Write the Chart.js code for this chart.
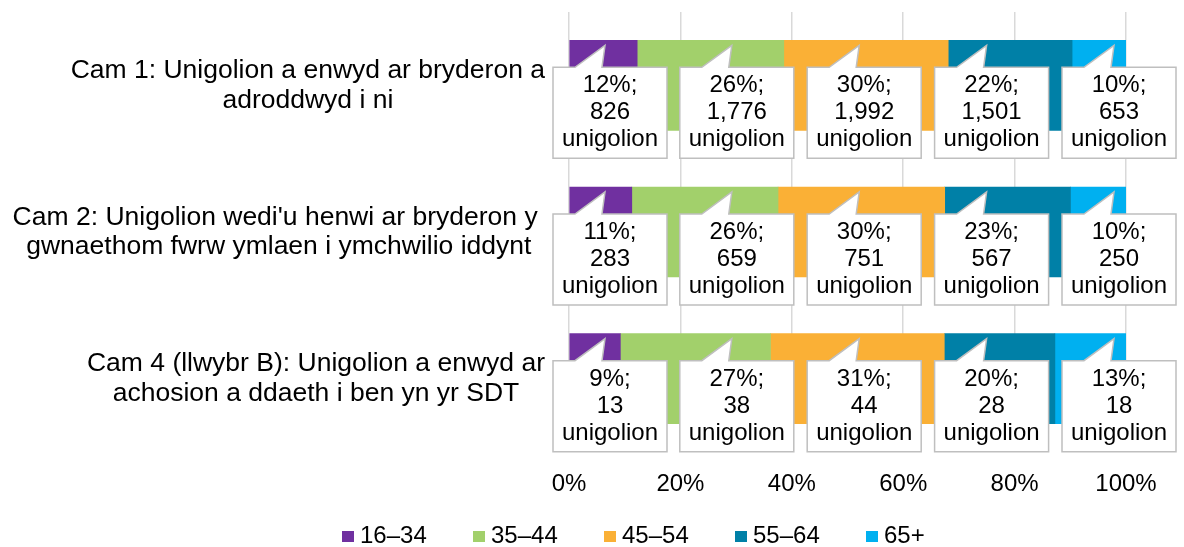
<!DOCTYPE html>
<html>
<head>
<meta charset="utf-8">
<script src="https://cdn.jsdelivr.net/npm/chart.js@4.4.1/dist/chart.umd.min.js"></script>
<style>
  body { margin: 0; background: #fff; }
  #wrap { width: 1184px; height: 547px; position: relative; }
</style>
</head>
<body>
<div id="wrap"><canvas id="myChart"></canvas></div>
<script>
// stages (each one a two-line label)
const categories = [
  ["Cam 1: Unigolion a enwyd ar bryderon a", "adroddwyd i ni"],
  ["Cam 2: Unigolion wedi'u henwi ar bryderon y ", "gwnaethom fwrw ymlaen i ymchwilio iddynt"],
  ["Cam 4 (llwybr B): Unigolion a enwyd ar", "achosion a ddaeth i ben yn yr SDT"]
];
const ageBands = ["16–34", "35–44", "45–54", "55–64", "65+"];

// number of individuals per age band, one value per stage
const count16to34 = [826, 283, 13];
const count35to44 = [1776, 659, 38];
const count45to54 = [1992, 751, 44];
const count55to64 = [1501, 567, 28];
const count65plus = [653, 250, 18];

const xTickValues = [0, 20, 40, 60, 80, 100];

const colors = ["#7030A0", "#A2D06B", "#FAB036", "#0080A7", "#00B0F0"];
const FONT = "'Liberation Sans', Arial, sans-serif";

const counts = [count16to34, count35to44, count45to54, count55to64, count65plus];
const totals = categories.map((c, i) => counts.reduce((s, arr) => s + arr[i], 0));
const shares = counts.map(arr => arr.map((v, i) => v / totals[i] * 100));

const datasets = ageBands.map((band, j) => ({
  label: band,
  data: shares[j],
  backgroundColor: colors[j],
  borderWidth: 0,
  barThickness: 90,
}));

// category labels: block right aligned, lines centred inside the block
const categoryLabels = {
  id: "categoryLabels",
  afterDraw(chart) {
    const ctx = chart.ctx;
    const yScale = chart.scales.y;
    const right = chart.chartArea.left - 24;
    const lineGap = 29.5;
    ctx.save();
    ctx.font = "26.5px " + FONT;
    ctx.fillStyle = "#000";
    ctx.textAlign = "center";
    ctx.textBaseline = "alphabetic";
    categories.forEach((lines, i) => {
      const y = yScale.getPixelForValue(i);
      const w = Math.max(...lines.map(l => ctx.measureText(l).width));
      const cx = right - w / 2;
      lines.forEach((l, k) => {
        const ly = y + (k - (lines.length - 1) / 2) * lineGap + 7.5;
        ctx.fillText(l, cx, ly);
      });
    });
    ctx.restore();
  }
};

// speech-bubble data labels below each segment
const callouts = {
  id: "callouts",
  afterDatasetsDraw(chart) {
    const ctx = chart.ctx;
    const boxW = 114, boxH = 91, gap = 14, lineGap = 27;
    ctx.save();
    ctx.font = "24px " + FONT;
    categories.forEach((cat, i) => {
      const bars = chart.data.datasets.map((ds, j) => chart.getDatasetMeta(j).data[i]);
      let cx = bars.map(b => (b.x + b.base) / 2);
      const lo = chart.chartArea.left - 16 + boxW / 2;
      const hi = chart.width - 8 - boxW / 2;
      for (let it = 0; it < 80; it++) {
        for (let k = 0; k < cx.length - 1; k++) {
          const d = cx[k + 1] - cx[k];
          if (d < boxW + gap) {
            const push = (boxW + gap - d) / 2;
            cx[k] -= push;
            cx[k + 1] += push;
          }
        }
        cx = cx.map(c => Math.min(hi, Math.max(lo, c)));
      }
      bars.forEach((b, j) => {
        const barTop = b.y - b.height / 2;
        const top = barTop + 27;
        const x0 = cx[j] - boxW / 2;
        const x1 = cx[j] + boxW / 2;
        ctx.beginPath();
        ctx.moveTo(x0, top);
        ctx.lineTo(cx[j] - 35, top);
        ctx.lineTo(cx[j] - 5, barTop + 5);
        ctx.lineTo(cx[j] - 8, top);
        ctx.lineTo(x1, top);
        ctx.lineTo(x1, top + boxH);
        ctx.lineTo(x0, top + boxH);
        ctx.closePath();
        ctx.fillStyle = "#fff";
        ctx.fill();
        ctx.strokeStyle = "#BFBFBF";
        ctx.lineWidth = 1.5;
        ctx.stroke();

        const pct = Math.round(shares[j][i]);
        const lines = [pct + "%;", counts[j][i].toLocaleString("en-GB"), "unigolion"];
        ctx.fillStyle = "#000";
        ctx.textAlign = "center";
        ctx.textBaseline = "middle";
        const cy = top + boxH / 2;
        lines.forEach((l, k) => ctx.fillText(l, cx[j], cy + (k - 1) * lineGap));
      });
    });
    ctx.restore();
  }
};

// legend with square markers along the bottom
const bottomLegend = {
  id: "bottomLegend",
  afterDraw(chart) {
    const ctx = chart.ctx;
    const startX = 342, pitch = 131, y = 535;
    ctx.save();
    ctx.font = "24px " + FONT;
    ctx.textAlign = "left";
    ctx.textBaseline = "middle";
    chart.data.datasets.forEach((ds, j) => {
      const x = startX + j * pitch;
      ctx.fillStyle = ds.backgroundColor;
      ctx.fillRect(x, y - 4, 12, 11);
      ctx.fillStyle = "#000";
      ctx.fillText(ds.label, x + 18, y + 1);
    });
    ctx.restore();
  }
};

new Chart("myChart", {
  type: "bar",
  data: {
    labels: categories,
    datasets: datasets,
  },
  plugins: [categoryLabels, callouts, bottomLegend],
  options: {
    indexAxis: "y",
    responsive: true,
    maintainAspectRatio: false,
    animation: false,
    layout: { padding: { left: 569, right: 58, top: 12, bottom: 50 } },
    plugins: {
      legend: { display: false },
      tooltip: { enabled: false },
    },
    scales: {
      x: {
        stacked: true,
        min: 0,
        max: 100,
        afterBuildTicks: (scale) => {
          scale.ticks = xTickValues.map(v => ({ value: v }));
        },
        afterFit: (scale) => {
          scale.height = 45;
        },
        ticks: {
          color: "#000",
          font: { family: FONT, size: 24 },
          padding: 18,
          maxRotation: 0,
          callback: (v) => v + "%",
        },
        grid: { color: "#D9D9D9", lineWidth: 1.5, drawTicks: false },
        border: { display: false },
      },
      y: {
        stacked: true,
        display: false,
      },
    },
  },
});
</script>
</body>
</html>
